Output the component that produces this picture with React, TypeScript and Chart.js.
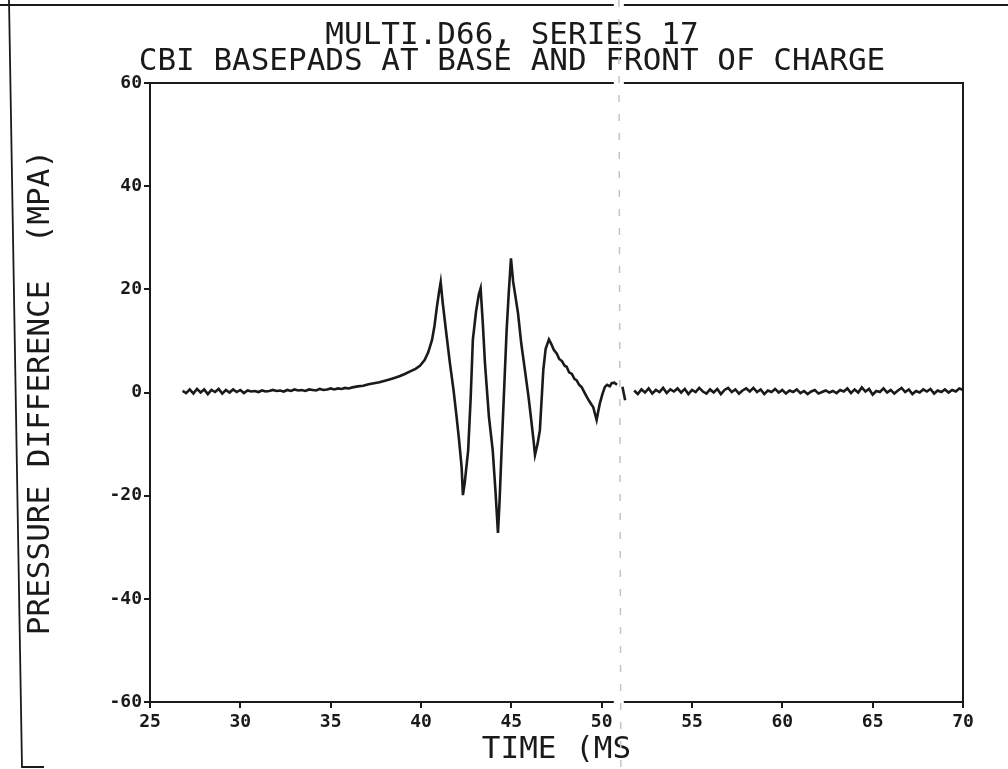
import React, { useEffect, useRef } from "react";
import { Chart, registerables } from "chart.js";

Chart.register(...registerables);

// ---------- text ----------
const titleLines = ["MULTI.D66, SERIES 17", "CBI BASEPADS AT BASE AND FRONT OF CHARGE"];
const xAxisTitle = "TIME (MS";
const yAxisTitle = "PRESSURE DIFFERENCE  (MPA)";

// ---------- tick values ----------
const xTickValues = [25, 30, 35, 40, 45, 50, 55, 60, 65, 70];
const yTickValues = [-60, -40, -20, 0, 20, 40, 60];

// ---------- trace: [time (ms), pressure difference (MPa)] ----------
const preBaseline: [number, number][] = [
  [26.8, 0.3], [27.0, -0.1], [27.2, 0.6], [27.4, -0.2], [27.6, 0.7], [27.8, 0.0],
  [28.0, 0.6], [28.2, -0.3], [28.4, 0.5], [28.6, 0.1], [28.8, 0.7], [29.0, -0.2],
  [29.2, 0.5], [29.4, 0.0], [29.6, 0.6], [29.8, 0.1], [30.0, 0.5], [30.2, -0.1],
  [30.4, 0.4], [30.6, 0.2], [30.8, 0.3], [31.0, 0.1], [31.2, 0.4], [31.4, 0.2],
  [31.6, 0.3], [31.8, 0.5], [32.0, 0.3], [32.2, 0.4], [32.4, 0.2], [32.6, 0.5],
  [32.8, 0.3], [33.0, 0.6], [33.2, 0.4], [33.4, 0.5], [33.6, 0.3], [33.8, 0.6],
  [34.0, 0.5], [34.2, 0.4], [34.4, 0.7], [34.6, 0.5], [34.8, 0.6], [35.0, 0.8],
  [35.2, 0.6], [35.4, 0.8], [35.6, 0.7], [35.8, 0.9], [36.0, 0.8], [36.2, 1.0],
];

const pulse: [number, number | null][] = [
  [36.5, 1.2], [36.8, 1.3], [37.1, 1.6], [37.4, 1.8], [37.7, 2.0], [38.0, 2.3],
  [38.3, 2.6], [38.6, 2.9], [38.84, 3.2], [39.1, 3.6], [39.4, 4.1], [39.7, 4.6],
  [39.94, 5.2], [40.2, 6.3], [40.4, 7.8], [40.61, 10.2], [40.75, 13.0], [40.88, 16.6],
  [41.0, 19.5], [41.09, 21.4], [41.2, 17.5], [41.4, 11.5], [41.6, 5.7], [41.8, 0.5],
  [41.97, -4.7], [42.1, -9.0], [42.25, -14.5], [42.32, -19.9], [42.42, -17.5], [42.61, -11.2],
  [42.75, -1.0], [42.87, 10.2], [43.05, 15.8], [43.2, 19.0], [43.3, 20.2], [43.42, 13.5],
  [43.54, 5.7], [43.76, -4.7], [43.97, -11.2], [44.12, -19.0], [44.26, -27.2], [44.35, -21.0],
  [44.46, -11.2], [44.6, 0.5], [44.74, 12.1], [44.86, 19.5], [44.98, 26.0], [45.1, 21.5],
  [45.37, 15.4], [45.55, 9.5], [45.75, 4.4], [45.95, -0.8], [46.12, -5.9], [46.22, -9.0],
  [46.31, -12.1], [46.45, -10.0], [46.58, -7.3], [46.77, 4.4], [46.9, 8.5], [47.08, 10.3],
  [47.2, 9.5], [47.35, 8.3], [47.51, 7.6], [47.65, 6.5], [47.8, 6.1], [47.95, 5.2],
  [48.06, 5.0], [48.2, 3.9], [48.35, 3.6], [48.5, 2.6], [48.61, 2.4], [48.75, 1.5],
  [48.9, 1.0], [49.05, 0.0], [49.17, -0.8], [49.3, -1.6], [49.45, -2.4], [49.53, -2.8],
  [49.65, -4.4], [49.72, -5.3], [49.8, -3.8], [49.9, -2.1], [50.05, -0.2], [50.18, 1.1],
  [50.3, 1.5], [50.45, 1.2], [50.55, 1.8], [50.7, 1.9], [50.85, 1.5], [51.0, null],
  [51.15, 1.1], [51.3, -1.5], [51.6, null],
];

const postBaseline: [number, number][] = [
  [51.8, 0.4], [52.0, -0.3], [52.2, 0.6], [52.4, 0.0], [52.6, 0.8], [52.8, -0.2],
  [53.0, 0.5], [53.2, 0.1], [53.4, 0.9], [53.6, -0.1], [53.8, 0.6], [54.0, 0.2],
  [54.2, 0.8], [54.4, 0.0], [54.6, 0.7], [54.8, -0.3], [55.0, 0.5], [55.2, 0.1],
  [55.4, 0.9], [55.6, 0.2], [55.8, -0.2], [56.0, 0.6], [56.2, 0.0], [56.4, 0.7],
  [56.6, -0.3], [56.8, 0.5], [57.0, 0.9], [57.2, 0.1], [57.4, 0.6], [57.6, -0.2],
  [57.8, 0.4], [58.0, 0.8], [58.2, 0.2], [58.4, 0.9], [58.6, 0.1], [58.8, 0.6],
  [59.0, -0.3], [59.2, 0.4], [59.4, 0.1], [59.6, 0.7], [59.8, 0.0], [60.0, 0.5],
  [60.2, -0.2], [60.4, 0.4], [60.6, 0.1], [60.8, 0.6], [61.0, -0.1], [61.2, 0.3],
  [61.4, -0.3], [61.6, 0.2], [61.8, 0.5], [62.0, -0.2], [62.2, 0.1], [62.4, 0.4],
  [62.6, 0.0], [62.8, 0.3], [63.0, -0.1], [63.2, 0.5], [63.4, 0.2], [63.6, 0.8],
  [63.8, -0.1], [64.0, 0.6], [64.2, 0.0], [64.4, 1.0], [64.6, 0.2], [64.8, 0.7],
  [65.0, -0.4], [65.2, 0.3], [65.4, 0.1], [65.6, 0.8], [65.8, 0.0], [66.0, 0.5],
  [66.2, -0.2], [66.4, 0.4], [66.6, 0.9], [66.8, 0.1], [67.0, 0.6], [67.2, -0.3],
  [67.4, 0.3], [67.6, 0.0], [67.8, 0.6], [68.0, 0.2], [68.2, 0.7], [68.4, -0.2],
  [68.6, 0.4], [68.8, 0.1], [69.0, 0.6], [69.2, 0.0], [69.4, 0.5], [69.6, 0.2],
  [69.8, 0.8], [70.0, 0.5],
];

// scan fold position (in time units)
const foldTime = 50.95;

const INK = "#1a1a1a";
const FONT = "'DejaVu Sans Mono', monospace";

export default function App() {
  const canvasRef = useRef<HTMLCanvasElement | null>(null);

  useEffect(() => {
    const canvas = canvasRef.current;
    if (!canvas) return;

    const points = [...preBaseline, ...pulse, ...postBaseline].map(([x, y]) => ({ x, y }));

    const plotterPlugin = {
      id: "plotterLook",
      afterLayout(chart: any) {
        // the plotted title sits a little right of the page centre
        const tb = chart.titleBlock;
        if (tb) tb.left += 39;
      },
      afterDraw(chart: any) {
        const { ctx, chartArea } = chart;
        const { left, right, top, bottom } = chartArea;
        const W = chart.width;
        const H = chart.height;
        ctx.save();
        ctx.strokeStyle = INK;
        ctx.lineWidth = 2;
        // top and right frame of the plot
        ctx.beginPath();
        ctx.moveTo(left, top);
        ctx.lineTo(right, top);
        ctx.lineTo(right, bottom);
        ctx.stroke();
        // outer sheet border of the scan
        ctx.lineWidth = 1.8;
        ctx.beginPath();
        ctx.moveTo(0, 5);
        ctx.lineTo(W, 5);
        ctx.moveTo(9, 0);
        ctx.lineTo(22, H - 2);
        ctx.lineTo(44, H - 2);
        ctx.stroke();
        // paper fold
        const fx = chart.scales.x.getPixelForValue(foldTime);
        ctx.fillStyle = "#ffffff";
        ctx.fillRect(fx - 5, 1, 10, 8);
        ctx.fillRect(fx - 5, top - 3, 10, 6);
        ctx.fillRect(fx - 5, bottom - 3, 10, 6);
        ctx.strokeStyle = "#c4c4c4";
        ctx.lineWidth = 1.5;
        ctx.setLineDash([7, 12]);
        ctx.beginPath();
        ctx.moveTo(fx, 0);
        ctx.lineTo(fx + 2, H);
        ctx.stroke();
        ctx.restore();
      },
    };

    const axisCommon = {
      grid: {
        display: true,
        drawOnChartArea: false,
        drawTicks: true,
        tickLength: 6,
        color: INK,
        tickColor: INK,
        lineWidth: 2,
      },
      border: { display: true, color: INK, width: 2 },
    };

    const chart = new Chart(canvas, {
      type: "line",
      data: {
        datasets: [
          {
            data: points as any,
            borderColor: INK,
            borderWidth: 2.6,
            pointRadius: 0,
            tension: 0,
            spanGaps: false,
            fill: false,
          },
        ],
      },
      options: {
        responsive: false,
        animation: false,
        devicePixelRatio: 1,
        layout: { padding: { left: 22, right: 45, top: 23, bottom: 0 } },
        plugins: {
          legend: { display: false },
          tooltip: { enabled: false },
          title: {
            display: true,
            text: titleLines,
            color: INK,
            font: { family: FONT, size: 31, weight: "normal", lineHeight: 0.84 },
            padding: { top: 0, bottom: 8 },
          },
        },
        scales: {
          x: {
            type: "linear",
            min: 25,
            max: 70,
            afterBuildTicks: (s: any) => {
              s.ticks = xTickValues.map((v) => ({ value: v }));
            },
            afterFit: (s: any) => {
              s.height = 67;
            },
            ticks: {
              color: INK,
              font: { family: FONT, size: 18, weight: "bold" },
              padding: 4,
              maxRotation: 0,
              autoSkip: false,
            },
            ...axisCommon,
            title: {
              display: true,
              text: xAxisTitle,
              color: INK,
              font: { family: FONT, size: 31, lineHeight: 1.2 },
              padding: { top: 0, bottom: 0 },
            },
          },
          y: {
            type: "linear",
            min: -60,
            max: 60,
            afterBuildTicks: (s: any) => {
              s.ticks = yTickValues.map((v) => ({ value: v }));
            },
            afterFit: (s: any) => {
              s.width = 128;
            },
            ticks: {
              color: INK,
              font: { family: FONT, size: 18, weight: "bold" },
              padding: 2,
              autoSkip: false,
            },
            ...axisCommon,
            title: {
              display: true,
              text: yAxisTitle,
              color: INK,
              font: { family: FONT, size: 31, lineHeight: 1.2 },
              padding: { top: 0, bottom: 0 },
            },
          },
        },
      },
      plugins: [plotterPlugin],
    });

    return () => {
      chart.destroy();
    };
  }, []);

  return (
    <div
      style={{
        position: "fixed",
        left: 0,
        top: 0,
        width: 1008,
        height: 769,
        background: "#ffffff",
      }}
    >
      <canvas ref={canvasRef} width={1008} height={769} style={{ width: 1008, height: 769 }} />
    </div>
  );
}
